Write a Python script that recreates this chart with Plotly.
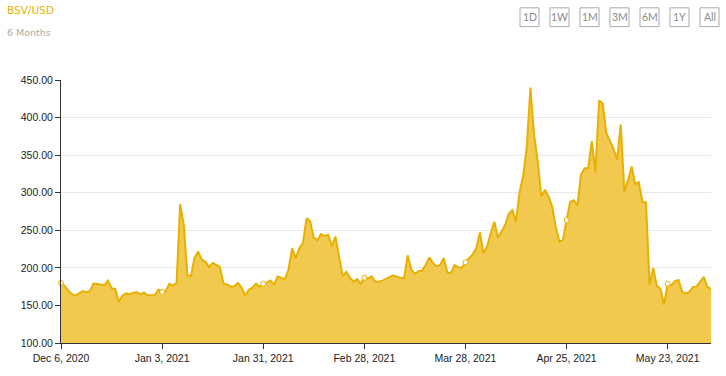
import plotly.graph_objects as go
import pandas as pd

start_date = "2020-12-06"
prices = [
    180, 176, 170, 165, 163, 166, 169, 167.5, 169, 179,
    179, 178, 177, 183, 173, 172, 155, 163, 166, 165,
    167, 167.5, 165, 167, 163.5, 163.5, 164, 171, 168, 169,
    179, 176, 180, 285, 257, 190, 189.5, 214, 221, 211,
    208, 201, 206.6, 204, 201, 179, 178, 175, 175.5, 180,
    173.7, 163, 171, 173.7, 179, 174.6, 179, 180, 183, 178,
    188.6, 187, 184.6, 197.8, 226, 213, 226, 233, 266, 262,
    240, 237, 245, 242.5, 244, 229, 241.7, 215, 189, 194.7,
    187, 181.6, 185, 179, 187, 186, 188.6, 181.6, 181.6, 183,
    185.5, 187, 190, 188, 187, 186, 216.7, 197.8, 192, 195.6,
    196.5, 204, 214, 206.6, 202, 204, 213, 193.4, 193.4, 203.5,
    201, 200, 207.5, 213, 218, 226, 247, 219.7, 228.5, 246,
    261.4, 240, 248, 257, 272, 276.7, 261.4, 301, 322.8, 362,
    440, 377.6, 342.5, 295, 304, 295, 282, 254.8, 235, 237,
    263.5, 287.8, 290, 283, 324, 332.5, 332.5, 368.8, 327, 422.8,
    419, 379.8, 368.8, 358.8, 343.9, 390.8, 301.8, 316, 335, 311.8,
    314, 287.8, 286.8, 177, 200, 176, 172, 151, 179, 176.7,
    182.5, 183.8, 168.4, 165.8, 168, 174.6, 175, 181.6, 188, 174.6,
    172,
]
tick_dates = ["2020-12-06", "2021-01-03", "2021-01-31", "2021-02-28",
              "2021-03-28", "2021-04-25", "2021-05-23"]
tick_labels = ["Dec 6, 2020", "Jan 3, 2021", "Jan 31, 2021", "Feb 28, 2021",
               "Mar 28, 2021", "Apr 25, 2021", "May 23, 2021"]
y_ticks = [100, 150, 200, 250, 300, 350, 400, 450]
buttons = ["1D", "1W", "1M", "3M", "6M", "1Y", "All"]
title_text = "BSV/USD"
subtitle_text = "6 Months"

dates = pd.date_range(start_date, periods=len(prices), freq="D")
series = pd.Series(prices, index=dates)
marker_idx = pd.to_datetime(tick_dates)
marker_vals = series.loc[marker_idx].values

# plot-area geometry (pixels)
W, H = 726, 376
L, R, T, B = 61, 15, 80, 30
PW = W - L - R
PH = H - T - B


def px(x):
    return (x - L) / PW


def py(y):
    return (H - B - y) / PH


LINE = "#E8B000"
FILL = "#F0C94E"

fig = go.Figure()
fig.add_trace(go.Scatter(
    x=dates, y=prices, mode="lines", fill="tozeroy",
    line=dict(color=LINE, width=2), fillcolor=FILL,
    hoverinfo="x+y", showlegend=False,
))
fig.add_trace(go.Scatter(
    x=marker_idx, y=marker_vals, mode="markers",
    marker=dict(size=5, color="white", line=dict(color=LINE, width=1)),
    cliponaxis=False, showlegend=False, hoverinfo="skip",
))

shapes = []
annotations = []
bx0 = 520
for i, b in enumerate(buttons):
    x0 = bx0 + i * 30
    x1 = x0 + 19
    shapes.append(dict(type="rect", xref="paper", yref="paper",
                       x0=px(x0), x1=px(x1), y0=py(26), y1=py(7),
                       line=dict(color="#aaaaaa", width=1),
                       fillcolor="white", layer="above"))
    annotations.append(dict(text=b, xref="paper", yref="paper",
                            x=px((x0 + x1) / 2), y=py(16.5),
                            xanchor="center", yanchor="middle",
                            showarrow=False,
                            font=dict(family="Lato, Open Sans", size=10.5,
                                      color="#8a8a8a")))

annotations.append(dict(text=title_text, xref="paper", yref="paper",
                        x=px(5), y=py(9.5), xanchor="left", yanchor="middle",
                        showarrow=False,
                        font=dict(family="DejaVu Sans", size=10.5, color="#E8B000")))
annotations.append(dict(text=subtitle_text, xref="paper", yref="paper",
                        x=px(5), y=py(31.5), xanchor="left", yanchor="middle",
                        showarrow=False,
                        font=dict(family="DejaVu Sans", size=9.5, color="#aaaaaa")))

fig.update_layout(
    width=W, height=H,
    margin=dict(l=L, r=R, t=T, b=B),
    paper_bgcolor="white", plot_bgcolor="white",
    shapes=shapes, annotations=annotations,
    font=dict(family="Liberation Sans, Arial", size=10.5, color="#222222"),
    xaxis=dict(
        range=[dates[0], dates[-1]],
        tickvals=marker_idx, ticktext=tick_labels,
        showgrid=False, showline=True, linecolor="#333333", linewidth=1,
        ticks="outside", ticklen=5, tickcolor="#333333",
        tickfont=dict(size=10.5, color="#222222"),
        zeroline=False,
    ),
    yaxis=dict(
        range=[100, 450], tickvals=y_ticks, tickformat=".2f",
        showgrid=True, gridcolor="#e8e8e8", gridwidth=1,
        showline=True, linecolor="#333333", linewidth=1,
        ticks="outside", ticklen=5, tickcolor="#333333",
        tickfont=dict(size=10.5, color="#222222"),
        zeroline=False,
    ),
)

fig.write_html("out.html", config={"displayModeBar": False},
               post_script="document.body.style.margin='0';")
